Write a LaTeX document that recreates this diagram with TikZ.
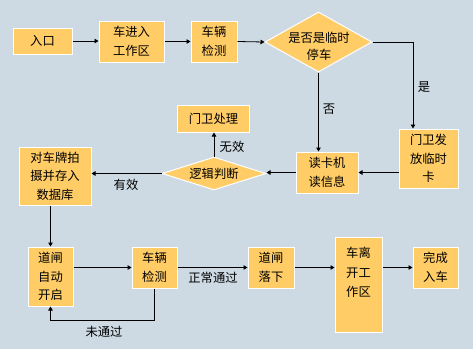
\documentclass[tikz,border=0pt]{standalone}
\usepackage{fontspec}
\setmainfont{Noto Sans CJK SC}
\usetikzlibrary{shapes.geometric,arrows.meta}
\definecolor{bgc}{HTML}{CDDAE3}
\definecolor{boxc}{HTML}{FFCC66}
\begin{document}
\begin{tikzpicture}[x=1pt,y=-1pt,
  box/.style={draw=white, line width=1pt, fill=boxc, inner sep=0pt, align=center,
    font=\fontsize{12.3}{18.5}\selectfont},
  dia/.style={shape=diamond, draw=white, line width=1pt, fill=boxc, inner sep=0pt},
  txt/.style={inner sep=0pt, align=center, font=\fontsize{12.3}{17}\selectfont},
  lab/.style={inner sep=0pt, font=\fontsize{12.3}{14}\selectfont},
  conn/.style={draw=black, line width=0.8pt, -{Triangle[length=4pt,width=4.5pt]}}]
\fill[bgc] (0,0) rectangle (473,349);
\useasboundingbox (0,0) rectangle (473,349);
% top row
\node[box, minimum width=59pt, minimum height=26pt] (entry) at (42.5,41) {入口};
\node[box, minimum width=65pt, minimum height=41pt] (workin) at (131.5,41.5) {车进入\\工作区};
\node[box, minimum width=46pt, minimum height=41pt] (det1) at (214,41.5) {车辆\\检测};
\node[dia, minimum width=107pt, minimum height=60pt] (d1) at (318.5,42) {};
\node[txt] (d1t) at (319,46.5) {是否是临时\\停车};
\node[box, minimum width=59pt, minimum height=59pt] (guard) at (428.5,158.5) {门卫发\\放临时\\卡};
\node[box, minimum width=62pt, minimum height=41pt] (reader) at (327,172.5) {读卡机\\读信息};
\node[box, minimum width=72pt, minimum height=27pt] (gproc) at (213.5,118.5) {门卫处理};
\node[dia, minimum width=104pt, minimum height=33pt] (d2) at (214,173.5) {};
\node[txt] (d2t) at (214,173.5) {逻辑判断};
\node[box, minimum width=72pt, minimum height=58pt] (photo) at (55,176) {对车牌拍\\摄并存入\\数据库};
% bottom row
\node[box, minimum width=45pt, minimum height=59pt] (gate) at (50.5,276.5) {道闸\\自动\\开启};
\node[box, minimum width=45pt, minimum height=41pt] (det2) at (154.5,267.5) {车辆\\检测};
\node[box, minimum width=46pt, minimum height=41pt] (drop) at (271,267.5) {道闸\\落下};
\node[box, minimum width=47pt, minimum height=95pt] (leave) at (358.5,284.5) {};
\node[txt, font=\fontsize{12.3}{19.5}\selectfont] (leavet) at (358.5,272.5) {车离\\开工\\作区};
\node[box, minimum width=45pt, minimum height=41pt] (done) at (435.5,267.5) {完成\\入车};
% connectors
\draw[conn] (entry.east) -- (entry.east -| workin.west);
\draw[conn] (workin.east) -- (det1.west);
\draw[conn] (det1.east) -- (d1.west);
\draw[conn] (d1.east) -| ([xshift=-15.5pt]guard.north);
\node[lab] (yes) at (424,87) {是};
\draw[conn] (d1.south) -- (d1.south |- reader.north);
\node[lab] (no) at (329,109) {否};
\draw[conn] (guard.west |- reader.east) -- (reader.east);
\draw[conn] (reader.west) -- (reader.west -| d2.east);
\draw[conn] (d2.north) -- (d2.north |- gproc.south);
\node[lab] (invalid) at (232,147) {无效};
\draw[conn] (d2.west) -- (d2.west -| photo.east);
\node[lab] (valid) at (126,185) {有效};
\draw[conn] (gate.north |- photo.south) -- (gate.north);
\draw[conn] (gate.east |- det2.west) -- (det2.west);
\draw[conn] (det2.east) -- (drop.west);
\node[lab] (normal) at (213,278) {正常通过};
\draw[conn] (drop.east) -- (drop.east -| leave.west);
\draw[conn] (done.west -| leave.east) -- (done.west);
\draw[conn] (det2.south) -- ++(0,32) -| (gate.south);
\node[lab] (fail) at (104,332) {未通过};
\end{tikzpicture}
\end{document}
